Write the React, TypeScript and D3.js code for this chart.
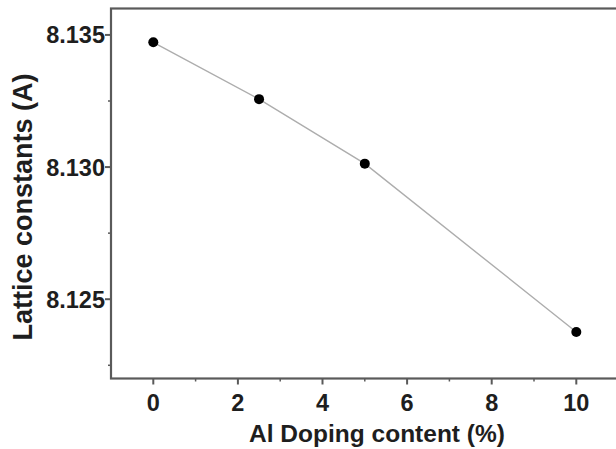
import React from "react";
import * as d3 from "d3";

// Al doping content (%) and the fitted lattice constant (Å)
const dopingContent = [0, 2.5, 5, 10];
const latticeConstants = [8.13472, 8.13257, 8.13013, 8.12376];

const xTickValues = [0, 2, 4, 6, 8, 10];
const xMinorTickValues = [1, 3, 5, 7, 9];
const yTickValues = [8.125, 8.13, 8.135];
const yMinorTickValues = [8.1225, 8.1275, 8.1325];

const xLabel = "Al Doping content (%)";
const yLabel = "Lattice constants (A)";

const W = 616;
const H = 449;
const margin = { left: 111, top: 8.5, bottom: 70.5 };

export default function App() {
  const x = d3.scaleLinear().domain([-1, 11]).range([margin.left, margin.left + 12 * 42.3]);
  const y = d3.scaleLinear().domain([8.122, 8.136]).range([H - margin.bottom, margin.top]);
  const [x0, x1] = x.range();
  const [yb, yt] = y.range();

  const pts: [number, number][] = dopingContent.map((d, i) => [d, latticeConstants[i]]);
  const line = d3
    .line<[number, number]>()
    .x((d) => x(d[0]))
    .y((d) => y(d[1]));

  const font = "'Liberation Sans', Arial, sans-serif";
  const axisColor = "#5a5a5a";
  const textColor = "#1e1e1e";

  return (
    <svg
      width={W}
      height={H}
      style={{ position: "absolute", left: 0, top: 0, background: "#fff" }}
      fontFamily={font}
    >
      {/* connecting line */}
      <path d={line(pts) ?? ""} fill="none" stroke="#adadad" strokeWidth={1.4} />
      {pts.map((d, i) => (
        <circle key={i} cx={x(d[0])} cy={y(d[1])} r={5} fill="#000" />
      ))}

      {/* frame */}
      <rect x={x0} y={yt} width={x1 - x0} height={yb - yt} fill="none" stroke={axisColor} strokeWidth={2.2} />

      {/* x ticks */}
      {xTickValues.map((t) => (
        <g key={"xt" + t}>
          <line x1={x(t)} x2={x(t)} y1={yb} y2={yb + 6} stroke={axisColor} strokeWidth={2} />
          <text x={x(t)} y={yb + 32} textAnchor="middle" fontSize={23.5} fontWeight="bold" fill={textColor}>
            {t}
          </text>
        </g>
      ))}
      {xMinorTickValues.map((t) => (
        <line key={"xm" + t} x1={x(t)} x2={x(t)} y1={yb} y2={yb + 3} stroke={axisColor} strokeWidth={1.5} />
      ))}

      {/* y ticks */}
      {yTickValues.map((t) => (
        <g key={"yt" + t}>
          <line x1={x0 - 6} x2={x0} y1={y(t)} y2={y(t)} stroke={axisColor} strokeWidth={2} />
          <text x={x0 - 6} y={y(t)} dy="0.36em" textAnchor="end" fontSize={23.5} fontWeight="bold" fill={textColor}>
            {d3.format(".3f")(t)}
          </text>
        </g>
      ))}
      {yMinorTickValues.map((t) => (
        <line key={"ym" + t} x1={x0 - 3} x2={x0} y1={y(t)} y2={y(t)} stroke={axisColor} strokeWidth={1.5} />
      ))}

      {/* axis titles */}
      <text x={377} y={442} textAnchor="middle" fontSize={24.5} fontWeight="bold" fill={textColor}>
        {xLabel}
      </text>
      <text
        transform={`translate(32, 207) rotate(-90)`}
        textAnchor="middle"
        fontSize={27}
        fontWeight="bold"
        fill={textColor}
      >
        {yLabel}
      </text>
    </svg>
  );
}
